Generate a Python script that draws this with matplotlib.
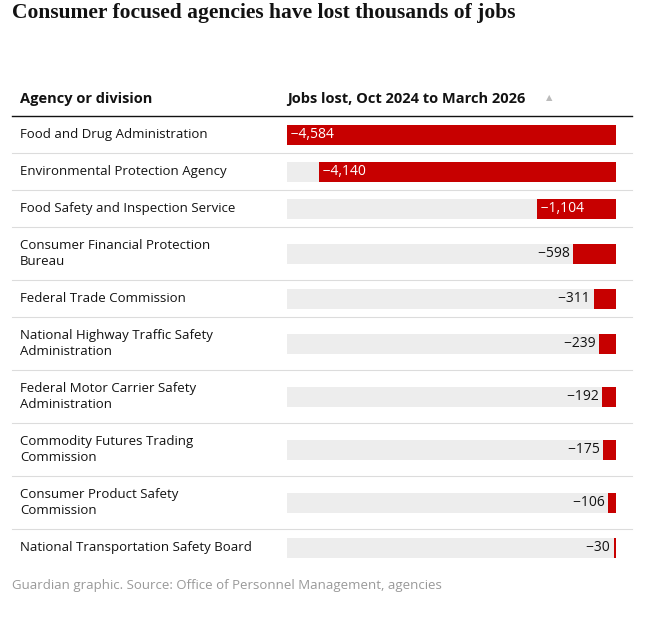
import matplotlib.pyplot as plt

agencies = ["Food and Drug Administration", "Environmental Protection Agency",
            "Food Safety and Inspection Service", "Consumer Financial Protection\nBureau",
            "Federal Trade Commission", "National Highway Traffic Safety\nAdministration",
            "Federal Motor Carrier Safety\nAdministration", "Commodity Futures Trading\nCommission",
            "Consumer Product Safety\nCommission", "National Transportation Safety Board"]
jobs_lost = [-4584, -4140, -1104, -598, -311, -239, -192, -175, -106, -30]

W, H = 654, 617
fig = plt.figure(figsize=(W / 100, H / 100), dpi=100)
ax = fig.add_axes([0, 0, 1, 1])
ax.set_xlim(0, W)
ax.set_ylim(H, 0)
ax.axis("off")

red = "#c70000"
dark = "#121212"
plt.rcParams["font.family"] = ["Open Sans", "DejaVu Sans"]

ax.text(12, 13, "Consumer focused agencies have lost thousands of jobs", fontsize=15.5,
        fontweight="bold", family="Liberation Serif", color=dark, va="center")
ax.text(20, 99, "Agency or division", fontsize=10.5, fontweight="bold", va="center", color=dark)
ax.text(287, 99, "Jobs lost, Oct 2024 to March 2026", fontsize=10.5, fontweight="bold",
        va="center", color=dark)
ax.text(546, 99, "\u25b2", fontsize=6, va="center", color="#bbbbbb")
ax.plot([12, 632], [116, 116], color=dark, lw=1)

# row boundaries: single-line rows 37px, two-line rows 53px
top = 116
bounds = [top]
for a in agencies:
    bounds.append(bounds[-1] + (53 if "\n" in a else 37))
centers = [(bounds[i] + bounds[i + 1]) / 2 for i in range(len(agencies))]

for i, a in enumerate(agencies):
    ax.text(20, centers[i], a, fontsize=9.5, va="center", color=dark, linespacing=1.25)
    if i < len(agencies) - 1:
        ax.plot([12, 632], [bounds[i + 1]] * 2, color="#dcdcdc", lw=0.8)

ax.text(12, 585, "Guardian graphic. Source: Office of Personnel Management, agencies",
        fontsize=9.5, color="#999999", va="center")

# bar panel
bx = fig.add_axes([287 / W, 1 - bounds[-1] / H, (616 - 287) / W, (bounds[-1] - top) / H])
bx.set_xlim(min(jobs_lost), 0)
bx.set_ylim(bounds[-1], top)
bx.axis("off")
bx.barh(centers, [min(jobs_lost)] * len(centers), height=20, color="#ededed")
bx.barh(centers, jobs_lost, height=20, color=red)
for c, v in zip(centers, jobs_lost):
    lab = "\u2212" + f"{-v:,}"
    if v < -1000:
        bx.text(v, c, " " + lab, color="white", fontsize=10, va="center", ha="left")
    else:
        bx.text(v, c, lab + " ", color=dark, fontsize=10, va="center", ha="right")

fig.savefig("out.png", dpi=100)
